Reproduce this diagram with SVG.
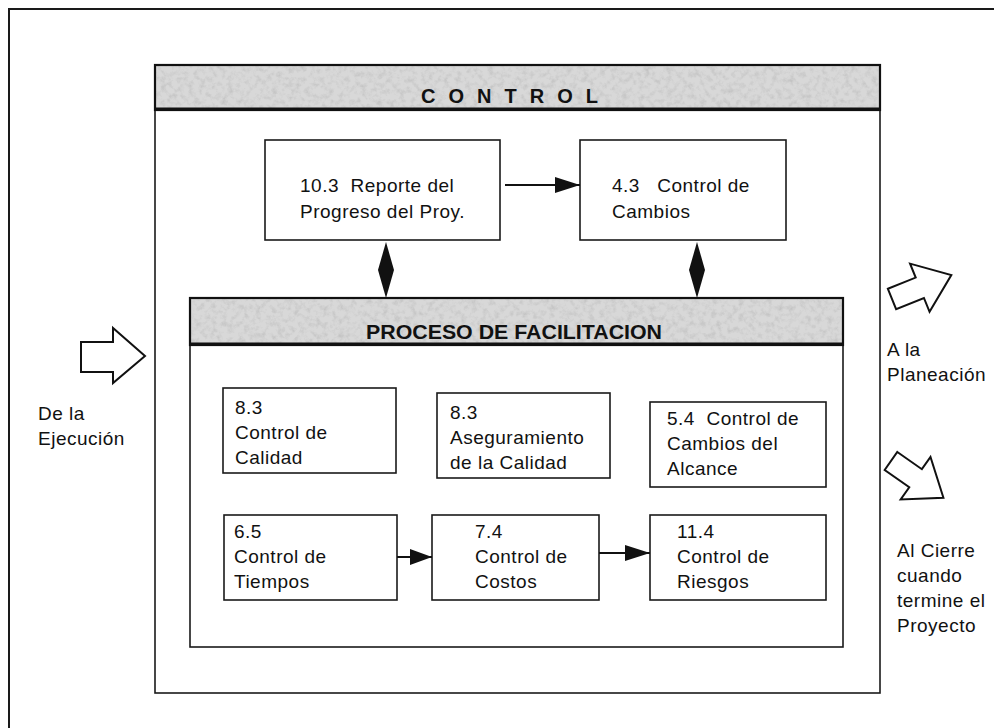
<svg xmlns="http://www.w3.org/2000/svg" width="994" height="728" viewBox="0 0 994 728">
  <defs>
    <!-- mottled grey fill for the two title bands -->
    <filter id="grain" x="0" y="0" width="100%" height="100%">
      <feTurbulence type="fractalNoise" baseFrequency="0.18" numOctaves="4" seed="7" result="noise"/>
      <feColorMatrix in="noise" type="matrix" values="0 0 0 0 0.55  0 0 0 0 0.55  0 0 0 0 0.55  2.2 0 0 0 -0.95" result="speck"/>
      <feFlood flood-color="#d8d8d8" result="base"/>
      <feComposite in="speck" in2="base" operator="over" result="mix"/>
      <feComposite in="mix" in2="SourceGraphic" operator="in"/>
    </filter>
    <style>
      .frame { fill: none; stroke: #1a1a1a; stroke-width: 2; }
      .box { fill: #fff; stroke: #1a1a1a; stroke-width: 1.6; }
      .band { fill: #ccc; filter: url(#grain); }
      .bandline { fill: none; stroke: #111; stroke-width: 2.2; }
      .txt { font-family: "Liberation Sans", Arial, sans-serif; font-size: 19px; fill: #111; letter-spacing: 0.5px; }
      .title { font-family: "Liberation Sans", Arial, sans-serif; font-weight: bold; fill: #111; }
      .conn { stroke: #111; stroke-width: 2; fill: none; }
      .fillhead { fill: #111; stroke: none; }
      .block { fill: #fff; stroke: #111; stroke-width: 2; stroke-linejoin: miter; }
    </style>
  </defs>

  <rect width="994" height="728" fill="#fff"/>

  <!-- page frame -->
  <rect x="9" y="9" width="1000" height="740" class="frame"/>

  <!-- CONTROL container -->
  <g id="control">
    <rect x="155" y="65" width="725" height="628" class="box" stroke-width="2"/>
    <rect x="155" y="65" width="725" height="45" class="band"/>
    <rect x="155" y="65" width="725" height="45" class="bandline"/>
    <line x1="155" y1="109" x2="880" y2="109" stroke="#111" stroke-width="3"/>
    <text x="516" y="103" class="title" font-size="20" letter-spacing="13" text-anchor="middle">CONTROL</text>
  </g>

  <g id="n103">
    <rect x="265" y="140" width="235" height="100" class="box"/>
    <text class="txt" x="300" y="192" xml:space="preserve">10.3  Reporte del</text>
    <text class="txt" x="300" y="218">Progreso del Proy.</text>
  </g>

  <g id="n43">
    <rect x="580" y="140" width="206" height="100" class="box"/>
    <text class="txt" x="612" y="192" xml:space="preserve">4.3   Control de</text>
    <text class="txt" x="612" y="218">Cambios</text>
  </g>

  <!-- PROCESO DE FACILITACION container -->
  <g id="facilitacion">
    <rect x="190" y="298" width="653" height="349" class="box" stroke-width="2"/>
    <rect x="190" y="298" width="653" height="47" class="band"/>
    <rect x="190" y="298" width="653" height="47" class="bandline"/>
    <line x1="190" y1="344" x2="843" y2="344" stroke="#111" stroke-width="3"/>
    <text x="514" y="339" class="title" font-size="21" text-anchor="middle" textLength="296" lengthAdjust="spacingAndGlyphs">PROCESO DE FACILITACION</text>
  </g>

  <g id="n83a">
    <rect x="223" y="388" width="173" height="85" class="box"/>
    <text class="txt" x="235" y="414">8.3</text>
    <text class="txt" x="235" y="439">Control de</text>
    <text class="txt" x="235" y="464">Calidad</text>
  </g>

  <g id="n83b">
    <rect x="437" y="393" width="173" height="85" class="box"/>
    <text class="txt" x="450" y="419">8.3</text>
    <text class="txt" x="450" y="444">Aseguramiento</text>
    <text class="txt" x="450" y="469">de la Calidad</text>
  </g>

  <g id="n54">
    <rect x="650" y="402" width="176" height="85" class="box"/>
    <text class="txt" x="667" y="425" xml:space="preserve">5.4  Control de</text>
    <text class="txt" x="667" y="450">Cambios del</text>
    <text class="txt" x="667" y="475">Alcance</text>
  </g>

  <g id="n65">
    <rect x="224" y="515" width="173" height="85" class="box"/>
    <text class="txt" x="234" y="538">6.5</text>
    <text class="txt" x="234" y="563">Control de</text>
    <text class="txt" x="234" y="588">Tiempos</text>
  </g>

  <g id="n74">
    <rect x="432" y="515" width="167" height="85" class="box"/>
    <text class="txt" x="475" y="538">7.4</text>
    <text class="txt" x="475" y="563">Control de</text>
    <text class="txt" x="475" y="588">Costos</text>
  </g>

  <g id="n114">
    <rect x="650" y="515" width="176" height="85" class="box"/>
    <text class="txt" x="677" y="538">11.4</text>
    <text class="txt" x="677" y="563">Control de</text>
    <text class="txt" x="677" y="588">Riesgos</text>
  </g>

  <!-- connectors -->
  <g id="connectors">
    <line x1="505" y1="185" x2="580" y2="185" class="conn"/>
    <polygon points="555,177 580,185 555,193" class="fillhead"/>
    <line x1="397" y1="557" x2="432" y2="557" class="conn"/>
    <polygon points="410,549 432,557 410,565" class="fillhead"/>
    <line x1="599" y1="553" x2="650" y2="553" class="conn"/>
    <polygon points="625,545 650,553 625,561" class="fillhead"/>
    <!-- two-way links between the upper boxes and the facilitation process -->
    <polygon points="386,242 394,270 386,298 378,270" class="fillhead"/>
    <polygon points="697,242 705,270 697,298 689,270" class="fillhead"/>
  </g>

  <!-- incoming / outgoing block arrows -->
  <g id="in-ejecucion">
    <polygon points="81,342 113,342 113,328 145,356 113,383 113,372 81,372" class="block"/>
    <text class="txt" x="38" y="420" letter-spacing="0">De la</text>
    <text class="txt" x="38" y="445" letter-spacing="0">Ejecución</text>
  </g>

  <g id="out-planeacion">
    <polygon transform="translate(892,299) rotate(-22)" points="0,-11 30,-11 30,-26 64,0 30,26 30,11 0,11" class="block"/>
    <text class="txt" x="887" y="356" letter-spacing="0">A la</text>
    <text class="txt" x="887" y="381" letter-spacing="0">Planeación</text>
  </g>

  <g id="out-cierre">
    <polygon transform="translate(891,461) rotate(35)" points="0,-11 30,-11 30,-26 64,0 30,26 30,11 0,11" class="block"/>
    <text class="txt" x="897" y="557" letter-spacing="0">Al Cierre</text>
    <text class="txt" x="897" y="582" letter-spacing="0">cuando</text>
    <text class="txt" x="897" y="607" letter-spacing="0">termine el</text>
    <text class="txt" x="897" y="632" letter-spacing="0">Proyecto</text>
  </g>
</svg>
